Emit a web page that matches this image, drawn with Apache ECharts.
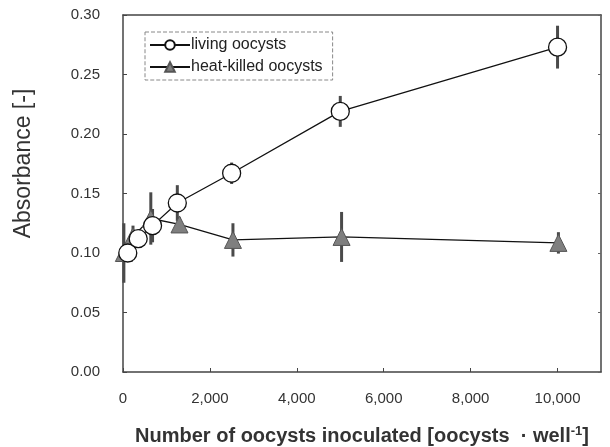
<!DOCTYPE html>
<html>
<head>
<meta charset="utf-8">
<script src="https://cdn.jsdelivr.net/npm/echarts@6/dist/echarts.min.js"></script>
<style>html,body{margin:0;padding:0;background:#fff}#c{width:610px;height:447px}</style>
</head>
<body>
<div id="c"></div>
<script>
// Living oocysts (open circles)
const liveX = [110, 350, 680, 1250, 2500, 5000, 10000];
const liveY = [0.100, 0.112, 0.123, 0.142, 0.167, 0.219, 0.273];
const liveErr = [0.004, 0.006, 0.014, 0.015, 0.009, 0.013, 0.018];
// Heat-killed oocysts (filled triangles)
const heatX = [20, 230, 640, 1300, 2530, 5030, 10020];
const heatY = [0.100, 0.114, 0.129, 0.124, 0.111, 0.1135, 0.1085];
const heatErr = [0.025, 0.009, 0.022, 0.006, 0.014, 0.021, 0.009];
// Axis ticks
const xTicks = [0, 2000, 4000, 6000, 8000, 10000];
const yTicks = [0.00, 0.05, 0.10, 0.15, 0.20, 0.25, 0.30];

const pairs = (xs, ys) => xs.map((x, i) => [x, ys[i]]);
const errData = (xs, ys, es) => xs.map((x, i) => [x, ys[i] - es[i], ys[i] + es[i]]);

function errRender(params, api) {
  const x = api.value(0);
  const lo = api.coord([x, api.value(1)]);
  const hi = api.coord([x, api.value(2)]);
  return {
    type: 'line',
    shape: { x1: lo[0], y1: lo[1], x2: hi[0], y2: hi[1] },
    style: { stroke: '#4a4a4a', lineWidth: 3 }
  };
}

const FONT = 'Liberation Sans, Arial, sans-serif';
const chart = echarts.init(document.getElementById('c'), null, { renderer: 'canvas' });
const axisLine = { show: true, onZero: false, lineStyle: { color: '#444', width: 1.5 } };
chart.setOption({
  animation: false,
  backgroundColor: '#fff',
  grid: { left: 123, right: 9, top: 15, bottom: 75, outerBoundsMode: 'none', containLabel: false },
  legend: {
    orient: 'vertical',
    left: 145, top: 32,
    itemWidth: 40, itemHeight: 12, itemGap: 6,
    padding: [5, 10, 5, 4],
    borderColor: '#888', borderWidth: 1, borderType: 'dashed',
    textStyle: { fontFamily: FONT, fontSize: 16, color: '#222', padding: [0, 0, 0, -4] },
    data: ['living oocysts', 'heat-killed oocysts']
  },
  xAxis: [{
    type: 'value', min: 0, max: 11000, interval: 2000,
    axisLine: axisLine,
    axisTick: { show: true, inside: true, length: 4, lineStyle: { color: '#444' } },
    splitLine: { show: false },
    axisLabel: {
      margin: 19, color: '#333', fontFamily: FONT, fontSize: 15,
      formatter: v => xTicks.includes(v) ? v.toLocaleString('en-US') : '',
      showMaxLabel: false
    },
    name: 'Number of oocysts inoculated [oocysts  · well{sup|-1}]',
    nameLocation: 'middle', nameGap: 53,
    nameTextStyle: {
      fontFamily: FONT, fontSize: 20, fontWeight: 'bold', color: '#333',
      rich: { sup: { fontSize: 13, fontWeight: 'bold', color: '#333', padding: [0, 0, 10, 0] } }
    }
  }, {
    type: 'value', min: 0, max: 11000, position: 'top',
    axisLine: axisLine, axisTick: { show: false }, axisLabel: { show: false }, splitLine: { show: false }
  }],
  yAxis: [{
    type: 'value', min: 0, max: 0.30, interval: 0.05,
    axisLine: axisLine,
    axisTick: { show: true, inside: true, length: 4, lineStyle: { color: '#444' } },
    splitLine: { show: false },
    axisLabel: {
      margin: 23, color: '#333', fontFamily: FONT, fontSize: 15,
      formatter: v => v.toFixed(2)
    },
    name: 'Absorbance [-]',
    nameLocation: 'middle', nameGap: 88,
    nameTextStyle: { fontFamily: FONT, fontSize: 23, color: '#333', padding: [0, 0, 0, 60] }
  }, {
    type: 'value', min: 0, max: 0.30, interval: 0.05, position: 'right',
    axisLine: axisLine,
    axisTick: { show: true, inside: true, length: 3, lineStyle: { color: '#666' } },
    axisLabel: { show: false }, splitLine: { show: false }
  }],
  series: [
    {
      type: 'custom', name: 'err-live', renderItem: errRender, z: 1,
      data: errData(liveX, liveY, liveErr), encode: { x: 0, y: [1, 2] }, silent: true
    },
    {
      type: 'custom', name: 'err-heat', renderItem: errRender, z: 1,
      data: errData(heatX, heatY, heatErr), encode: { x: 0, y: [1, 2] }, silent: true
    },
    {
      type: 'line', name: 'living oocysts', data: pairs(liveX, liveY), z: 3,
      symbol: 'circle', symbolSize: 18, showAllSymbol: true,
      lineStyle: { color: '#111', width: 1.3 },
      itemStyle: { color: '#fff', borderColor: '#111', borderWidth: 1.3 }
    },
    {
      type: 'line', name: 'heat-killed oocysts', data: pairs(heatX, heatY), z: 2,
      symbol: 'triangle', symbolSize: [17, 17], showAllSymbol: true,
      lineStyle: { color: '#111', width: 1.3 },
      itemStyle: { color: '#7f7f7f', borderColor: '#555', borderWidth: 1 }
    }
  ]
});
</script>
</body>
</html>
